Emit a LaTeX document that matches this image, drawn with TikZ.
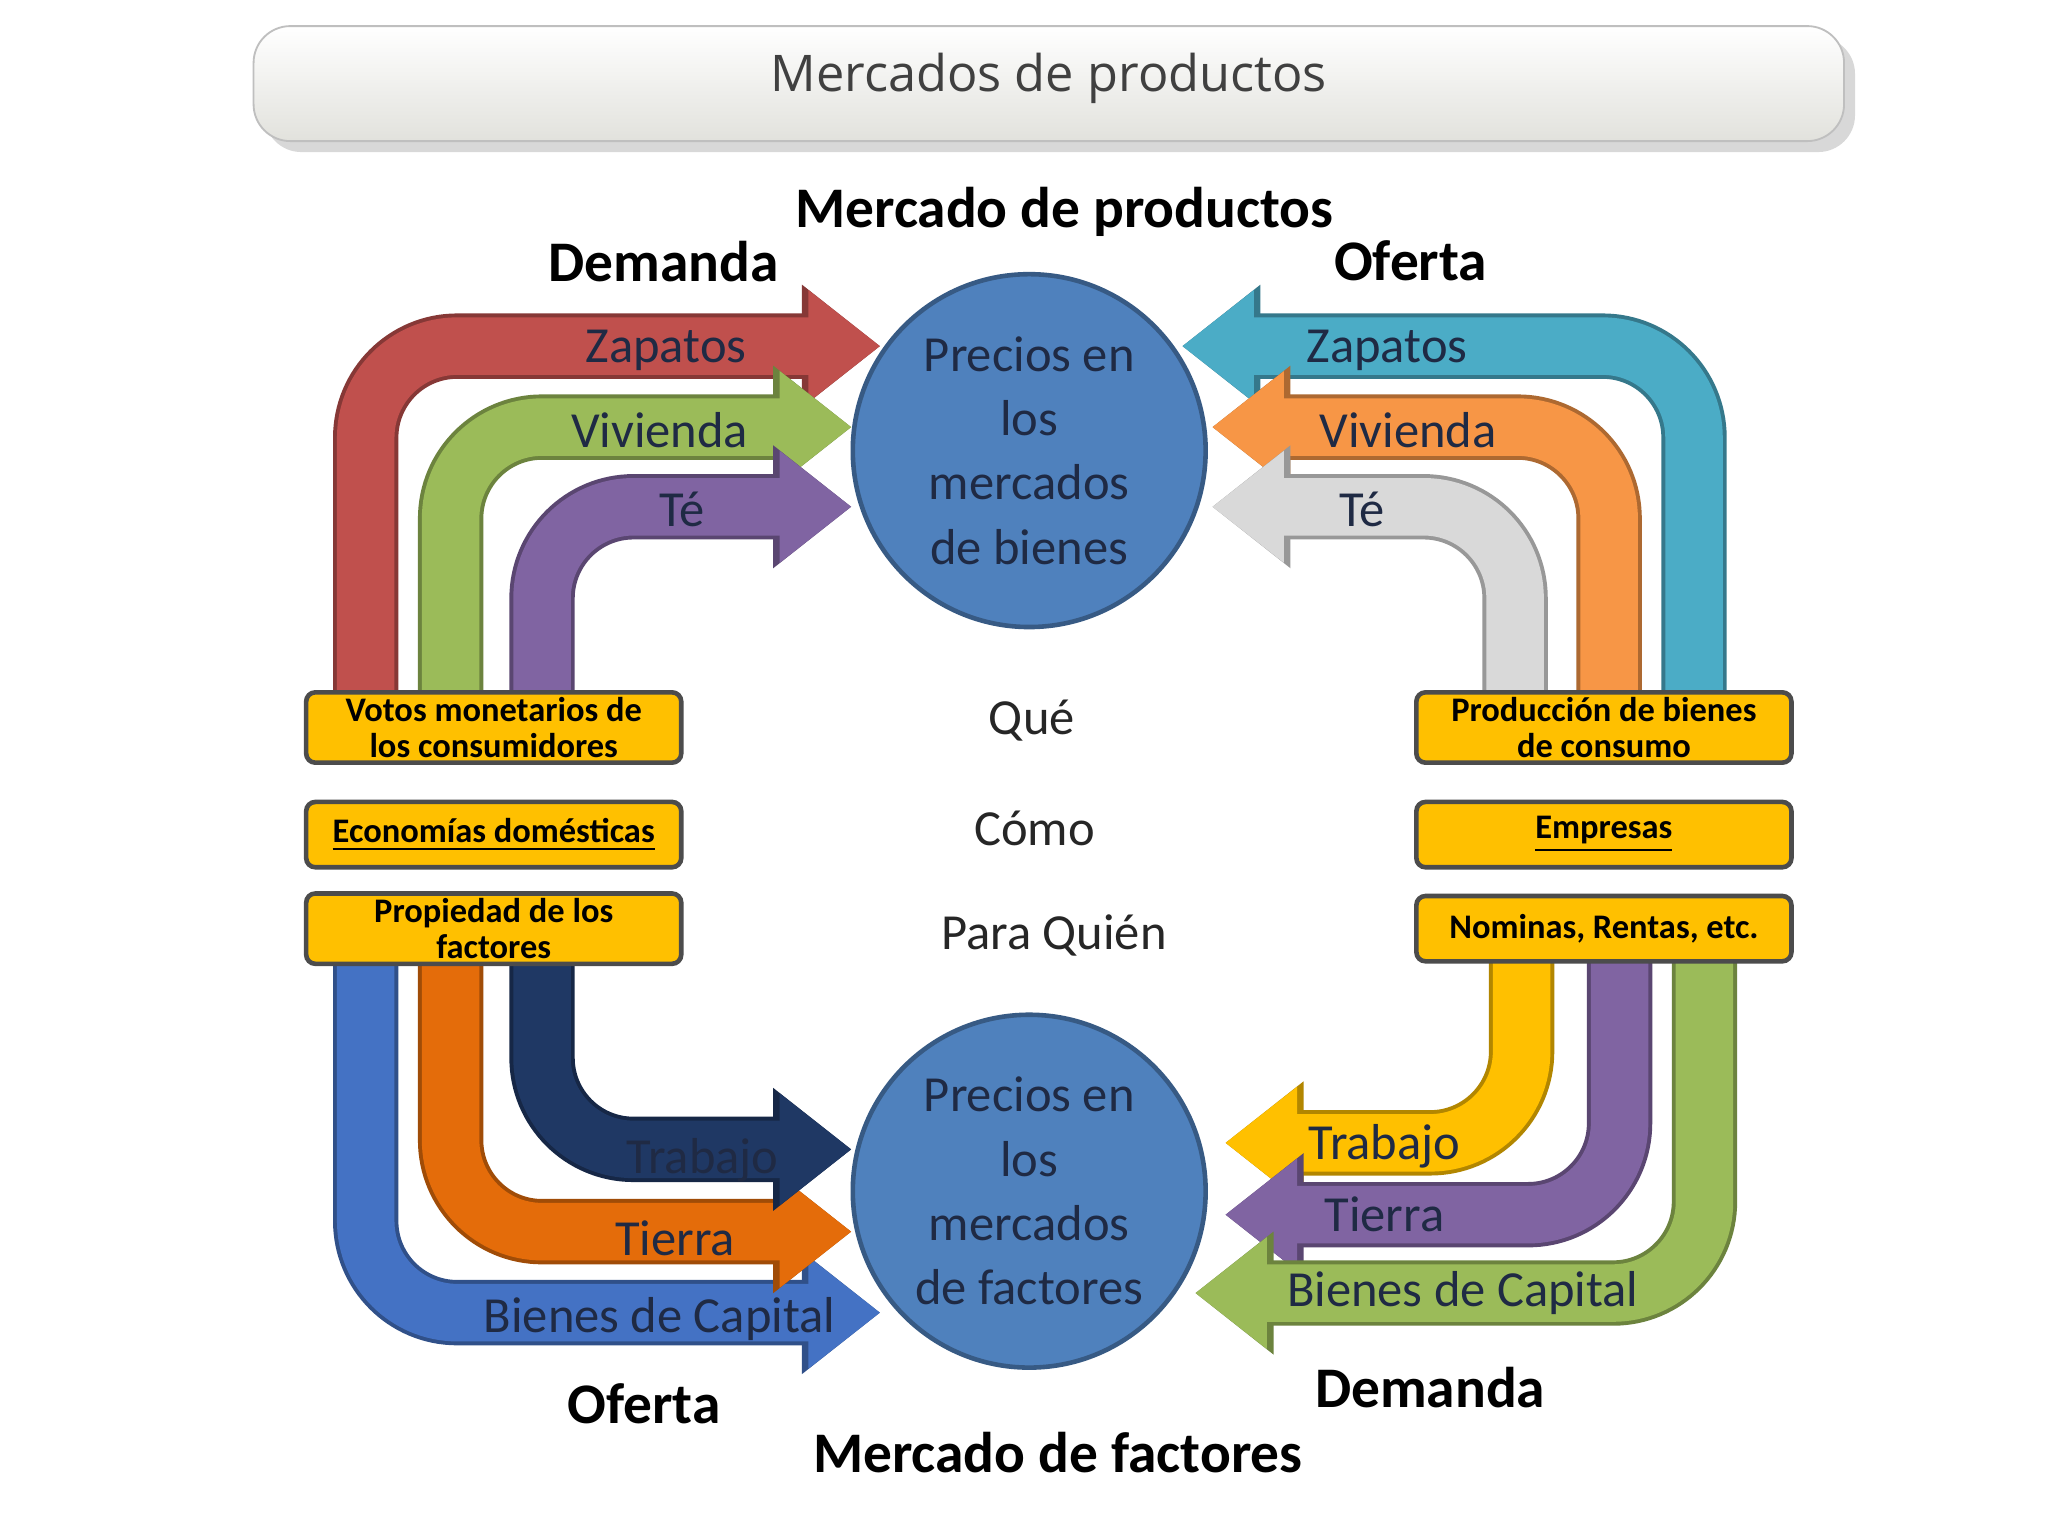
\documentclass[tikz,border=0pt]{standalone}
\usepackage{fontspec}
\setmainfont{Carlito}
\newfontfamily\bannerfont{Open Sans}
\usetikzlibrary{arrows.meta,shadows}
\definecolor{circ}{HTML}{4F81BD}
\definecolor{txt}{HTML}{1F2A44}
\definecolor{boxf}{HTML}{FFC000}
\definecolor{cred}{HTML}{C0504D}
\definecolor{cgreen}{HTML}{9BBB59}
\definecolor{cpurple}{HTML}{8064A2}
\definecolor{ccyan}{HTML}{4BACC6}
\definecolor{corange}{HTML}{F79646}
\definecolor{cgray}{HTML}{D9D9D9}
\definecolor{cblue}{HTML}{4472C4}
\definecolor{cdorange}{HTML}{E46C0A}
\definecolor{cnavy}{HTML}{1F3864}
\newcommand\flowarrow[2]{%
  \draw[line width=0.5cm,rounded corners=0.7cm,draw=#1!70!black,-{Triangle[length=0.6cm,width=0.9cm]}] #2;
  \draw[line width=0.44cm,rounded corners=0.7cm,draw=#1,-{Triangle[length=0.55cm,width=0.82cm]}] #2;}
\begin{document}
\begin{tikzpicture}[x=0.01cm,y=-0.01cm,
  circ/.style={circle,minimum size=2.7cm,fill=circ,draw=circ!70!black,line width=1pt,text=txt,align=center,font=\fontsize{11}{14}\selectfont,inner sep=0pt},
  box/.style={rounded corners=2pt,fill=boxf,draw=black!70,line width=1pt,minimum width=2.87cm,minimum height=0.5cm,align=center,font=\fontsize{7.5}{8}\selectfont\bfseries,text=black,inner sep=1pt},
  head/.style={font=\fontsize{12.5}{14}\selectfont\bfseries,text=black},
  lab/.style={font=\fontsize{11}{13}\selectfont,text=txt},
  mid/.style={font=\fontsize{11}{13}\selectfont,text=black!85}]
\useasboundingbox[fill=white] (0,0) rectangle (1568,1176);
\node[rounded corners=8pt,top color=white,bottom color=yellow!8!gray!25,draw=gray!50,minimum width=12.17cm,minimum height=0.88cm,drop shadow={opacity=0.3}] (banner) at (803,64) {};
\node[font=\bannerfont\fontsize{11}{13}\selectfont,text=black!75] (bt) at (803,60) {Mercados de productos};
\node[head] (mp) at (815,162) {Mercado de productos};
\node[head] (d1) at (508,200) {Demanda};
\node[head] (o1) at (1080,200) {Oferta};
\node[head] (o2) at (493,1075) {Oferta};
\node[head] (d2) at (1095,1062) {Demanda};
\node[head] (mf) at (810,1112) {Mercado de factores};
\node[mid] (q) at (790,552) {Qué};
\node[mid] (c) at (792,634) {Cómo};
\node[mid] (p) at (807,716) {Para Quién};
% box positions
\coordinate (lv) at (378,557); \coordinate (rv) at (1228,557);
\coordinate (lp) at (378,711); \coordinate (rp) at (1228,711);
% end coordinates
\coordinate (e1) at (674,265); \coordinate (e2) at (652,327); \coordinate (e3) at (652,388);
\coordinate (e4) at (905,265); \coordinate (e5) at (928,327); \coordinate (e6) at (928,388);
\coordinate (e7) at (674,1005); \coordinate (e8) at (652,943); \coordinate (e9) at (652,880);
\coordinate (e10) at (938,875); \coordinate (e11) at (938,930); \coordinate (e12) at (915,990);
\flowarrow{cred}{(lv -| 280,0) ++(0,-5) |- (e1)}
\flowarrow{cgreen}{(lv -| 345,0) ++(0,-5) |- (e2)}
\flowarrow{cpurple}{(lv -| 415,0) ++(0,-5) |- (e3)}
\flowarrow{ccyan}{(rv -| 1297,0) ++(0,-5) |- (e4)}
\flowarrow{corange}{(rv -| 1232,0) ++(0,-5) |- (e5)}
\flowarrow{cgray}{(rv -| 1160,0) ++(0,-5) |- (e6)}
\flowarrow{cblue}{(lp -| 280,0) ++(0,5) |- (e7)}
\flowarrow{cdorange}{(lp -| 345,0) ++(0,5) |- (e8)}
\flowarrow{cnavy}{(lp -| 415,0) ++(0,5) |- (e9)}
\flowarrow{boxf}{(rp -| 1165,0) ++(0,5) |- (e10)}
\flowarrow{cpurple}{(rp -| 1240,0) ++(0,5) |- (e11)}
\flowarrow{cgreen}{(rp -| 1305,0) ++(0,5) |- (e12)}
\node[lab] (l1) at (510,268) {Zapatos};
\node[lab] (l2) at (505,329) {Vivienda};
\node[lab] (l3) at (522,390) {Té};
\node[lab] (l4) at (1062,268) {Zapatos};
\node[lab] (l5) at (1078,329) {Vivienda};
\node[lab] (l6) at (1043,390) {Té};
\node[lab] (l7) at (538,888) {Trabajo};
\node[lab] (l8) at (517,948) {Tierra};
\node[lab] (l9) at (505,1010) {Bienes de Capital};
\node[lab] (l10) at (1060,878) {Trabajo};
\node[lab] (l11) at (1060,930) {Tierra};
\node[lab] (l12) at (1120,990) {Bienes de Capital};
\node[circ] (c1) at (788,345) {Precios en\\los\\mercados\\de bienes};
\node[circ] (c2) at (788,912) {Precios en\\los\\mercados\\de factores};
\node[box] (b1) at (lv) {Votos monetarios de\\los consumidores};
\node[box] (b2) at (378,639) {\underline{Economías domésticas}};
\node[box] (b3) at (lp) {Propiedad de los\\factores};
\node[box] (b4) at (rv) {Producción de bienes\\de consumo};
\node[box] (b5) at (1228,639) {\underline{Empresas}};
\node[box] (b6) at (rp) {Nominas, Rentas, etc.};
\end{tikzpicture}
\end{document}
